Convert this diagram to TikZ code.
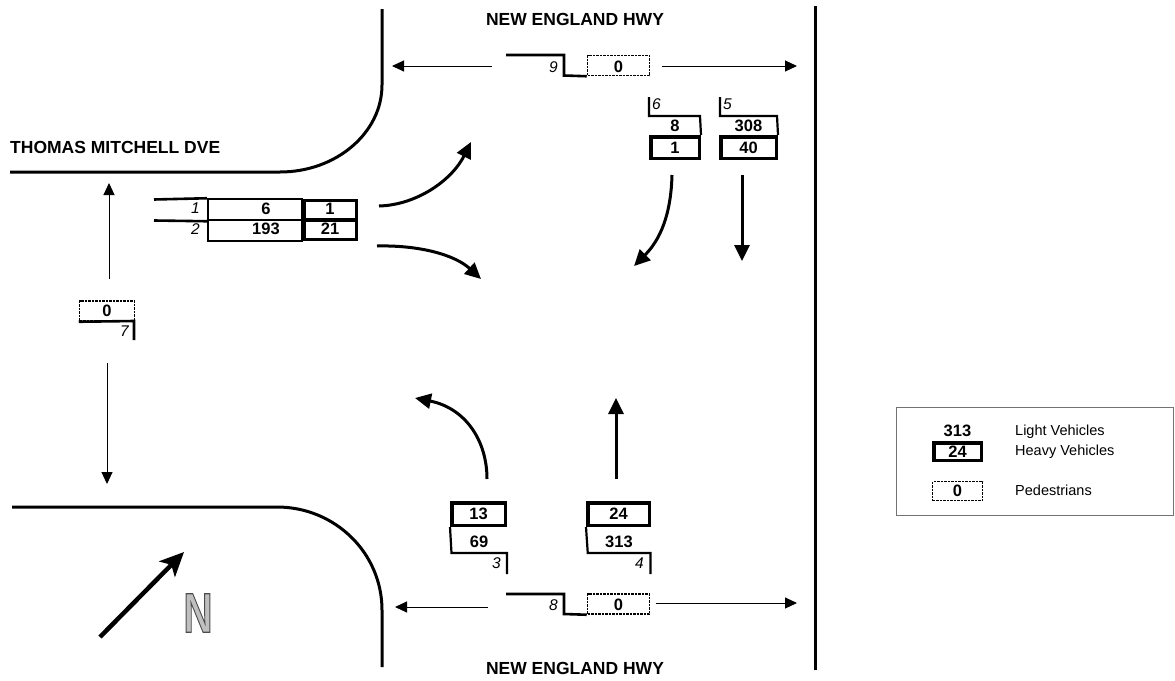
\documentclass[tikz,border=0pt]{standalone}
\usepackage{fontspec}
\setmainfont{Liberation Sans}
\usetikzlibrary{arrows.meta}
\newcommand\streetfont{\fontsize{17.5}{20}\selectfont\bfseries}
\newcommand\numfont{\fontsize{16.5}{18}\selectfont\bfseries}
\newcommand\idxfont{\fontsize{15.5}{17}\selectfont\itshape}
\newcommand\legfont{\fontsize{14.5}{17}\selectfont}
\definecolor{nfill}{gray}{0.75}
\definecolor{legframe}{gray}{0.45}
\tikzset{
  road/.style={line width=3pt},
  laneline/.style={line width=2.6pt},
  lightline/.style={line width=2.2pt},
  heavybox/.style={draw, line width=3.5pt, inner sep=0pt, font=\numfont},
  lightbox/.style={draw, line width=2pt, inner sep=0pt},
  pedbox/.style={draw, line width=1.5pt, dash pattern=on 2.5pt off 1pt, inner sep=0pt, font=\numfont},
  num/.style={inner sep=0pt, font=\numfont},
  idx/.style={inner sep=0pt, font=\idxfont},
  street/.style={inner sep=0pt, font=\streetfont},
  legtext/.style={inner sep=0pt, font=\legfont, anchor=base west},
  thinarr/.style={line width=1pt, -{Triangle[length=12pt,width=11pt]}},
  movearr/.style={line width=3pt, -{Triangle[length=16pt,width=15pt]}},
}
\begin{document}
\begin{tikzpicture}[x=1pt,y=-1pt]
\useasboundingbox (0,0) rectangle (1175,680);

% ---- kerbs ----
\draw[road] (382,9) -- (382,85) .. controls (382,133) and (336,172) .. (280,172) -- (10,172);
\draw[road] (12,507) -- (277,507) .. controls (335,507) and (382,553) .. (382,610) -- (382,667);
\draw[road] (815,6) -- (815,670);

% ---- street names ----
\node[street] (nehTop) at (575,19) {NEW ENGLAND HWY};
\node[street] (nehBot) at (575,668) {NEW ENGLAND HWY};
\node[street, anchor=west] (tmd) at (10,147) {THOMAS MITCHELL DVE};

% ---- pedestrian crossing 9 (top) ----
\node[pedbox, minimum width=62, minimum height=20] (p9) at (618.5,65.5) {};
\node[num] (p9n) at (618.5,67) {0};
\draw[laneline] (506,55) -- (564,55) -- (564,75.5) -- (p9.south west);
\node[idx, anchor=east] (i9) at (558,67) {9};
\coordinate (p9ls) at (492,66); \coordinate (p9le) at (392,66);
\coordinate (p9rs) at (662,66); \coordinate (p9re) at (797,66);
\draw[thinarr] (p9ls) -- (p9le);
\draw[thinarr] (p9rs) -- (p9re);

% ---- pedestrian crossing 8 (bottom) ----
\node[pedbox, minimum width=62, minimum height=20] (p8) at (618.5,604) {};
\node[num] (p8n) at (618.5,605) {0};
\draw[laneline] (506,594) -- (564,594) -- (564,614) -- (p8.south west);
\node[idx, anchor=east] (i8) at (558,605) {8};
\coordinate (p8ls) at (488,607); \coordinate (p8le) at (395,607);
\coordinate (p8rs) at (656,603); \coordinate (p8re) at (797,603);
\draw[thinarr] (p8ls) -- (p8le);
\draw[thinarr] (p8rs) -- (p8re);

% ---- pedestrian crossing 7 (left) ----
\node[pedbox, minimum width=55, minimum height=20] (p7) at (107,311) {};
\node[num] (p7n) at (107,311) {0};
\draw[laneline] (p7.south west) -- (134,321) -- (134,340);
\node[idx, anchor=east] (i7) at (129,331) {7};
\coordinate (p7us) at (109,279); \coordinate (p7ue) at (109,183);
\coordinate (p7ds) at (107,363); \coordinate (p7de) at (107,484);
\draw[thinarr] (p7us) -- (p7ue);
\draw[thinarr] (p7ds) -- (p7de);

% ---- approach lanes 1 and 2 (west) ----
\node[lightbox, minimum width=94, minimum height=21] (l1) at (255,209.75) {};
\node[lightbox, minimum width=94, minimum height=21] (l2) at (255,230.75) {};
\node[heavybox, minimum width=52.5, minimum height=19.5] (h1) at (330,210.4) {};
\node[heavybox, minimum width=52.5, minimum height=19.5] (h2) at (330,229.9) {};
\draw[laneline] (154,199.5) -- (l1.north west);
\draw[laneline] (154,220.5) -- (l1.south west);
\node[idx, anchor=east] (i1) at (200,208.5) {1};
\node[idx, anchor=east] (i2) at (200,229) {2};
\node[num] (n1) at (266,208.5) {6};
\node[num] (n2) at (266,229) {193};
\node[num] (hn1) at (330,208.5) {1};
\node[num] (hn2) at (330,229) {21};

% ---- approach lanes 6 and 5 (north) ----
\node[heavybox, minimum width=48.5, minimum height=21.5] (h6) at (675,147.5) {1};
\node[heavybox, minimum width=55.5, minimum height=21.5] (h5) at (748.5,147.5) {40};
\draw[lightline] (649,97) -- (649,116) -- (700,116) -- (h6.north east);
\draw[lightline] (720,97) -- (720,116) -- (777,116) -- (h5.north east);
\node[num] (n6) at (675,125.5) {8};
\node[num] (n5) at (748.5,125.5) {308};
\node[idx, anchor=west] (i6) at (652,104.5) {6};
\node[idx, anchor=west] (i5) at (723,104.5) {5};

% ---- approach lanes 3 and 4 (south) ----
\node[heavybox, minimum width=53.5, minimum height=22.5] (h3) at (478.5,514) {13};
\node[heavybox, minimum width=61.5, minimum height=22.5] (h4) at (618.5,514) {24};
\draw[lightline] (h3.south west) -- (451.5,553) -- (507,553) -- (507,574);
\draw[lightline] (h4.south west) -- (587.75,553) -- (650.5,553) -- (650.5,574);
\node[num] (n3) at (479,542) {69};
\node[num] (n4) at (619,542) {313};
\node[idx, anchor=east] (i3) at (501,563) {3};
\node[idx, anchor=east] (i4) at (644,563) {4};

% ---- movement arrows ----
\coordinate (m1s) at (379,206); \coordinate (m1e) at (471,142);
\draw[movearr] (m1s) .. controls (417,205) and (452,180) .. (m1e);
\coordinate (m2s) at (377,246); \coordinate (m2e) at (481,279);
\draw[movearr] (m2s) .. controls (420,245) and (455,255) .. (m2e);
\coordinate (m6s) at (672,175); \coordinate (m6e) at (634,266);
\draw[movearr] (m6s) .. controls (671,215) and (660,240) .. (m6e);
\coordinate (m5s) at (742,175); \coordinate (m5e) at (742,261);
\draw[movearr] (m5s) -- (m5e);
\coordinate (m3s) at (487,479); \coordinate (m3e) at (415,398);
\draw[movearr] (m3s) .. controls (487,440) and (465,408) .. (m3e);
\coordinate (m4s) at (616,479); \coordinate (m4e) at (616,398);
\draw[movearr] (m4s) -- (m4e);

% ---- north arrow ----
\coordinate (ns) at (100,637); \coordinate (ne) at (184,552);
\draw[line width=4.5pt, -{Stealth[length=24pt,width=22pt,inset=6pt]}] (ns) -- (ne);
\node[inner sep=0pt, text=nfill] (N) at (198,613) {\scalebox{0.72}[1]{\fontsize{56}{60}\selectfont\bfseries\special{pdf:literal direct 0.3 G 1.2 w 2 Tr}N\special{pdf:literal direct 0 Tr}}};

% ---- legend ----
\node[draw=legframe, line width=1pt, minimum width=277, minimum height=108, anchor=north west, inner sep=0pt] (leg) at (896,407) {};
\node[num] (lg313) at (957.5,431) {313};
\node[heavybox, minimum width=47.5, minimum height=17.5] (lg24) at (957.5,451.5) {24};
\node[pedbox, minimum width=50, minimum height=19] (lg0) at (957.5,491) {0};
\node[legtext] (lgL) at (1015,435.5) {Light Vehicles};
\node[legtext] (lgH) at (1015,455.5) {Heavy Vehicles};
\node[legtext] (lgP) at (1015,495.5) {Pedestrians};
\end{tikzpicture}
\end{document}
